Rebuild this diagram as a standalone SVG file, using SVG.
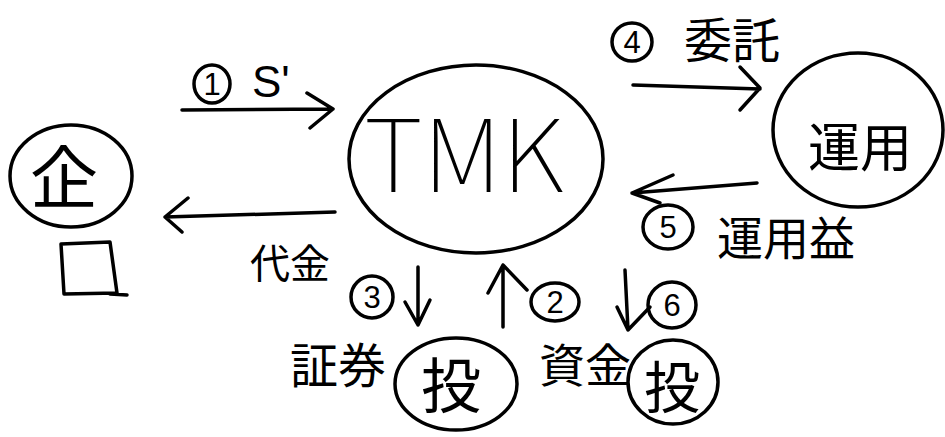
<svg xmlns="http://www.w3.org/2000/svg" width="945" height="437" viewBox="0 0 945 437">
<defs>
<style>
.ln{fill:none;stroke:#000;stroke-width:3.5;stroke-linecap:round;stroke-linejoin:round}
.jp{font-family:"Noto Sans CJK JP","Noto Sans",sans-serif;fill:#000;font-weight:400}
.lt{font-family:"Liberation Sans","DejaVu Sans",sans-serif;fill:#000}
.num{font-family:"Liberation Sans","DejaVu Sans",sans-serif;fill:#000;font-size:31px;text-anchor:middle}
</style>
</defs>
<rect width="945" height="437" fill="#fff"/>
<g id="node-kigyo">
<ellipse class="ln" cx="71" cy="176" rx="61" ry="51"/>
<text class="jp" x="64" y="203" font-size="68" text-anchor="middle">企</text>
<path class="ln" d="M61,244 L110,242 L117,293 L64,294 Z M110,294 L127,295"/>
</g>
<g id="node-tmk">
<ellipse class="ln" cx="476" cy="159" rx="127" ry="94"/>
<text x="364" y="192" font-size="100" textLength="200" lengthAdjust="spacingAndGlyphs" style="font-family:'Noto Sans CJK JP','Noto Sans',sans-serif;font-weight:100;fill:#000">TMK</text>
</g>
<g id="node-unyo">
<ellipse class="ln" cx="858" cy="130" rx="85" ry="77"/>
<text class="jp" x="860" y="167" font-size="52" text-anchor="middle">運用</text>
</g>
<g id="node-toshi1">
<ellipse class="ln" cx="456" cy="384" rx="61" ry="46"/>
<text class="jp" x="451" y="408" font-size="60" text-anchor="middle">投</text>
</g>
<g id="node-toshi2">
<ellipse class="ln" cx="673" cy="382" rx="45" ry="42"/>
<text class="jp" x="672" y="408" font-size="56" text-anchor="middle">投</text>
</g>
<g id="connectors">
<path class="ln" d="M182,110 L333,109 M307,93 L333,109 L310,128"/>
<ellipse class="ln" cx="212" cy="84" rx="18" ry="19"/>
<text class="num" x="212" y="95">1</text>
<text class="lt" x="252" y="97" font-size="44">S'</text>
<path class="ln" d="M335,212 L165,217 M188,198 L165,217 L182,232"/>
<text class="jp" x="290" y="278" font-size="40" text-anchor="middle">代金</text>
<path class="ln" d="M418,267 L418,325 M405,302 L418,325 L430,300"/>
<ellipse class="ln" cx="372" cy="297" rx="21" ry="21"/>
<text class="num" x="372" y="308">3</text>
<text class="jp" x="338" y="383" font-size="48" text-anchor="middle">証券</text>
<path class="ln" d="M503,327 L503,265 M488,293 L503,265 L527,290"/>
<ellipse class="ln" cx="555" cy="302" rx="24" ry="19"/>
<text class="num" x="555" y="313">2</text>
<text class="jp" x="585" y="382" font-size="46" text-anchor="middle">資金</text>
<path class="ln" d="M625,270 L628,330 M617,307 L628,330 L650,307"/>
<ellipse class="ln" cx="672" cy="305" rx="24" ry="23"/>
<text class="num" x="672" y="316">6</text>
<path class="ln" d="M633,85 L760,89 M740,67 L760,88 L740,110"/>
<ellipse class="ln" cx="632" cy="42" rx="20" ry="19"/>
<text class="num" x="632" y="53">4</text>
<text class="jp" x="732" y="58" font-size="48" text-anchor="middle">委託</text>
<path class="ln" d="M757,183 L632,193 M673,175 L632,193 L660,203"/>
<ellipse class="ln" cx="668" cy="227" rx="25" ry="22"/>
<text class="num" x="668" y="238">5</text>
<text class="jp" x="786" y="255" font-size="46" text-anchor="middle">運用益</text>
</g>
</svg>
